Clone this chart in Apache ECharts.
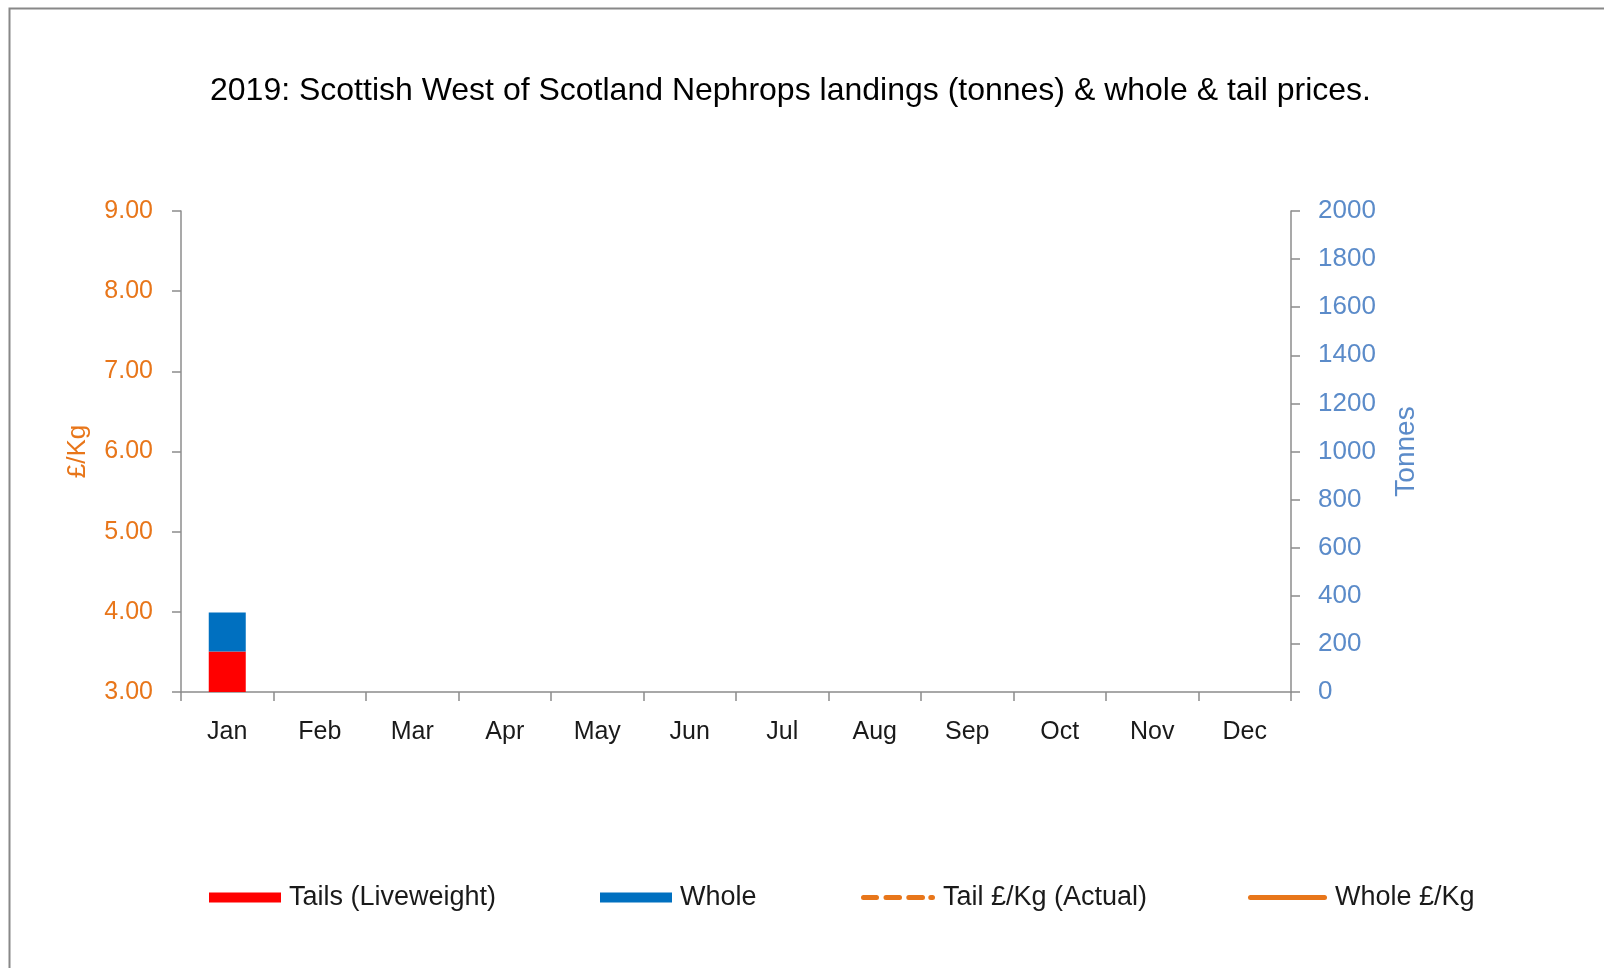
<!DOCTYPE html>
<html>
<head>
<meta charset="utf-8">
<script src="https://cdn.jsdelivr.net/npm/echarts@6/dist/echarts.min.js"></script>
<style>
  html, body { margin: 0; padding: 0; background: #fff; }
  #chart { width: 1604px; height: 968px; }
</style>
</head>
<body>
<div id="chart"></div>
<script>
// data
const months = ["Jan", "Feb", "Mar", "Apr", "May", "Jun", "Jul", "Aug", "Sep", "Oct", "Nov", "Dec"];
const tails = [168, null, null, null, null, null, null, null, null, null, null, null];
const whole = [163, null, null, null, null, null, null, null, null, null, null, null];
const tailPrice = [null, null, null, null, null, null, null, null, null, null, null, null];
const wholePrice = [null, null, null, null, null, null, null, null, null, null, null, null];

const font = "Liberation Sans";
const orange = "#E8761A";
const blue = "#5B8BC9";
const axisGrey = "#8C8C8C";

// legend icons drawn like the excel ones (rounded dashes / rounded bar)
const dashIcon = "path://M2.5,0h13a2.5,2.5 0 0 1 0,5h-13a2.5,2.5 0 0 1 0,-5z" +
  "M25,0h13.5a2.5,2.5 0 0 1 0,5h-13.5a2.5,2.5 0 0 1 0,-5z" +
  "M47.8,0h13.7a2.5,2.5 0 0 1 0,5h-13.7a2.5,2.5 0 0 1 0,-5z" +
  "M69.8,0h1.7a2.5,2.5 0 0 1 0,5h-1.7a2.5,2.5 0 0 1 0,-5z";
const lineIcon = "path://M2.5,0h74a2.5,2.5 0 0 1 0,5h-74a2.5,2.5 0 0 1 0,-5z";

let chart = echarts.init(document.getElementById("chart"));

function legendAt(name, left, w, h, icon) {
  return {
    data: [{ name: name, icon: icon }],
    left: left,
    top: 884,
    padding: 0,
    itemWidth: w,
    itemHeight: h,
    itemGap: 0,
    textStyle: { fontFamily: font, fontSize: 27, color: "#1a1a1a", padding: [0, 0, 0, 3] }
  };
}

chart.setOption({
  animation: false,
  backgroundColor: "#fff",
  textStyle: { fontFamily: font },
  title: {
    text: "2019: Scottish West of Scotland Nephrops landings (tonnes) & whole & tail prices.",
    left: 205,
    top: 70,
    textStyle: { fontFamily: font, fontSize: 32, fontWeight: "normal", color: "#000" }
  },
  graphic: [{
    type: "rect",
    left: 7,
    top: 6,
    shape: { width: 1700, height: 1000 },
    style: { fill: null, stroke: "#888", lineWidth: 2 },
    silent: true
  }],
  legend: [
    legendAt("Tails (Liveweight)", 209, 72, 10, "rect"),
    legendAt("Whole", 600, 72, 10, "rect"),
    legendAt("Tail £/Kg (Actual)", 861, 74, 5, dashIcon),
    legendAt("Whole £/Kg", 1248, 79, 5, lineIcon)
  ],
  grid: { left: 181, right: 313, top: 211, bottom: 276 },
  xAxis: {
    type: "category",
    data: months,
    boundaryGap: true,
    axisLine: { lineStyle: { color: axisGrey, width: 1.5 } },
    axisTick: { show: true, alignWithLabel: false, length: 9, lineStyle: { color: axisGrey, width: 1.5 } },
    axisLabel: { margin: 28, fontFamily: font, fontSize: 25, color: "#1a1a1a" }
  },
  yAxis: [
    {
      type: "value",
      min: 3,
      max: 9,
      interval: 1,
      name: "£/Kg",
      nameLocation: "middle",
      nameGap: 90,
      nameTextStyle: { fontFamily: font, fontSize: 26, color: orange },
      splitLine: { show: false },
      axisLine: { show: true, lineStyle: { color: axisGrey, width: 1.5 } },
      axisTick: { show: true, length: 9, lineStyle: { color: axisGrey, width: 1.5 } },
      axisLabel: { margin: 28, fontFamily: font, fontSize: 25, color: orange, formatter: v => v.toFixed(2) }
    },
    {
      type: "value",
      min: 0,
      max: 2000,
      interval: 200,
      name: "Tonnes",
      nameLocation: "middle",
      nameGap: 101,
      nameTextStyle: { fontFamily: font, fontSize: 28, color: blue },
      splitLine: { show: false },
      axisLine: { show: true, lineStyle: { color: axisGrey, width: 1.5 } },
      axisTick: { show: true, length: 9, lineStyle: { color: axisGrey, width: 1.5 } },
      axisLabel: { margin: 27, fontFamily: font, fontSize: 26, color: blue, formatter: v => String(v) }
    }
  ],
  series: [
    {
      name: "Tails (Liveweight)",
      type: "bar",
      stack: "landings",
      yAxisIndex: 1,
      barWidth: "40%",
      itemStyle: { color: "#FF0000" },
      data: tails
    },
    {
      name: "Whole",
      type: "bar",
      stack: "landings",
      yAxisIndex: 1,
      barWidth: "40%",
      itemStyle: { color: "#0070C0" },
      data: whole
    },
    {
      name: "Tail £/Kg (Actual)",
      type: "line",
      yAxisIndex: 0,
      symbol: "none",
      itemStyle: { color: orange },
      lineStyle: { color: orange, width: 4, type: [18, 5] },
      data: tailPrice
    },
    {
      name: "Whole £/Kg",
      type: "line",
      yAxisIndex: 0,
      symbol: "none",
      itemStyle: { color: orange },
      lineStyle: { color: orange, width: 4 },
      data: wholePrice
    }
  ]
});
</script>
</body>
</html>
